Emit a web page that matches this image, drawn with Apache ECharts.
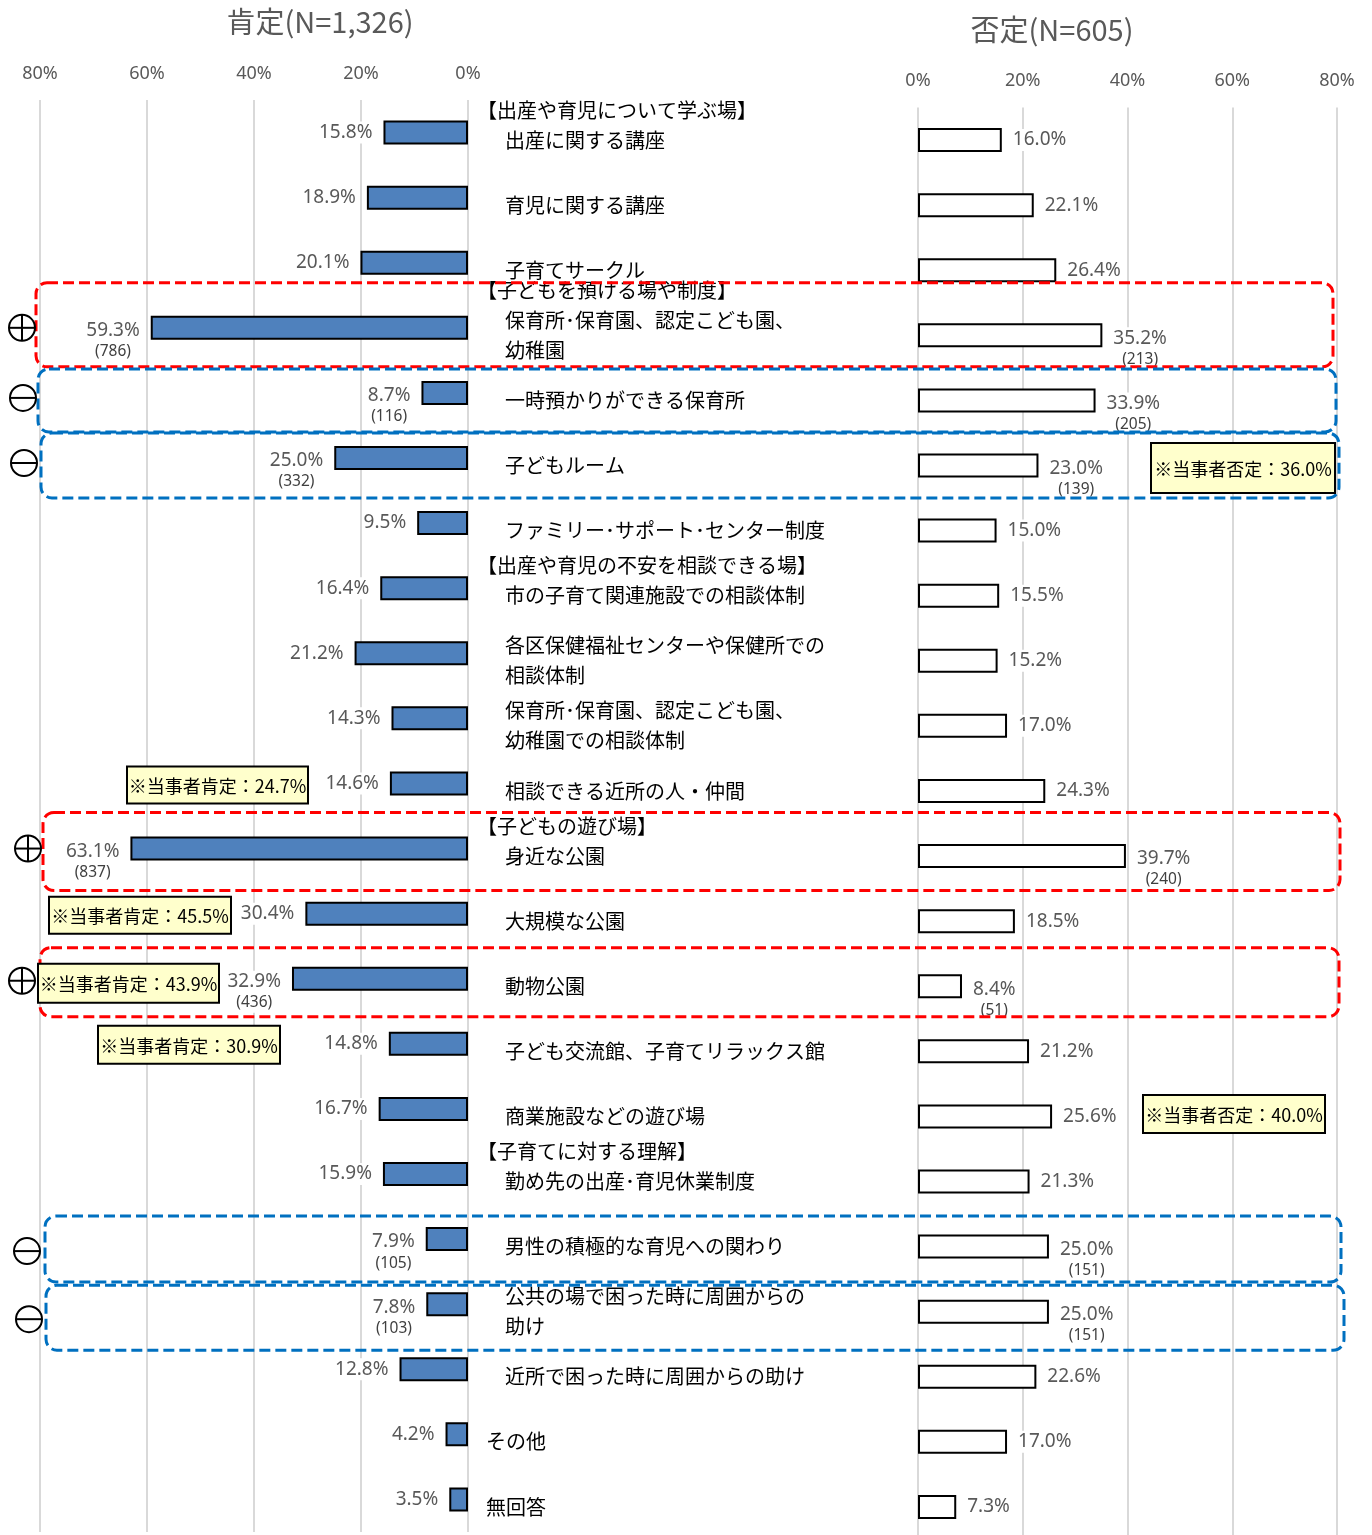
<!DOCTYPE html>
<html>
<head>
<meta charset="utf-8">
<script src="https://cdn.jsdelivr.net/npm/echarts/dist/echarts.min.js"></script>
<style>
html,body{margin:0;padding:0;background:#fff;}
#chart{width:1372px;height:1535px;}
</style>
</head>
<body>
<div id="chart"></div>
<script>
// ---------------- DATA ----------------
const categories = [
  '出産に関する講座',
  '育児に関する講座',
  '子育てサークル',
  '保育所･保育園、認定こども園、\n幼稚園',
  '一時預かりができる保育所',
  '子どもルーム',
  'ファミリー･サポート･センター制度',
  '市の子育て関連施設での相談体制',
  '各区保健福祉センターや保健所での\n相談体制',
  '保育所･保育園、認定こども園、\n幼稚園での相談体制',
  '相談できる近所の人・仲間',
  '身近な公園',
  '大規模な公園',
  '動物公園',
  '子ども交流館、子育てリラックス館',
  '商業施設などの遊び場',
  '勤め先の出産･育児休業制度',
  '男性の積極的な育児への関わり',
  '公共の場で困った時に周囲からの\n助け',
  '近所で困った時に周囲からの助け',
  'その他',
  '無回答'
];
const sectionHeaders = [
  '【出産や育児について学ぶ場】', '', '',
  '【子どもを預ける場や制度】', '', '', '',
  '【出産や育児の不安を相談できる場】', '', '', '',
  '【子どもの遊び場】', '', '', '', '',
  '【子育てに対する理解】', '', '', '', '', ''
];
const ungroupedItems = ['その他', '無回答'];
const positiveValues = [15.8, 18.9, 20.1, 59.3, 8.7, 25.0, 9.5, 16.4, 21.2, 14.3, 14.6, 63.1, 30.4, 32.9, 14.8, 16.7, 15.9, 7.9, 7.8, 12.8, 4.2, 3.5];
const negativeValues = [16.0, 22.1, 26.4, 35.2, 33.9, 23.0, 15.0, 15.5, 15.2, 17.0, 24.3, 39.7, 18.5, 8.4, 21.2, 25.6, 21.3, 25.0, 25.0, 22.6, 17.0, 7.3];
const positiveCounts = [null, null, null, 786, 116, 332, null, null, null, null, null, 837, null, 436, null, null, null, 105, 103, null, null, null];
const negativeCounts = [null, null, null, 213, 205, 139, null, null, null, null, null, 240, null, 51, null, null, null, 151, 151, null, null, null];
const axisTicks = [0, 20, 40, 60, 80];
const titleTexts = ['肯定(N=1,326)', '否定(N=605)'];
const noteRows = [5, 10, 12, 13, 14, 15];
const noteTexts = ['※当事者否定：36.0%', '※当事者肯定：24.7%', '※当事者肯定：45.5%', '※当事者肯定：43.9%', '※当事者肯定：30.9%', '※当事者否定：40.0%'];
const highlightRows = [3, 4, 5, 11, 13, 17, 18];
const highlightSigns = ['+', '-', '-', '+', '+', '-', '-'];

// ---------------- LAYOUT / STYLE ----------------
const RED = '#FF0000', BLUE = '#0070C0';
const boxLayout = [
  {x1: 36, x2: 1333, t: -45, b: 39, c: RED,  sx: 22, sy: 0},
  {x1: 38, x2: 1336, t: -24, b: 39, c: BLUE, sx: 23, sy: 5},
  {x1: 41, x2: 1339, t: -25, b: 40, c: BLUE, sx: 24, sy: 5},
  {x1: 43, x2: 1340, t: -36, b: 42, c: RED,  sx: 28, sy: 0},
  {x1: 40, x2: 1339, t: -31, b: 38, c: RED,  sx: 22, sy: 2},
  {x1: 45, x2: 1341, t: -23, b: 43, c: BLUE, sx: 27, sy: 12},
  {x1: 46, x2: 1344, t: -19, b: 46, c: BLUE, sx: 29, sy: 15}
];
const noteLayout = [
  {x1: 1151, x2: 1335, t: -15, b: 35},
  {x1: 127,  x2: 308,  t: -17, b: 20},
  {x1: 49,   x2: 231,  t: -17, b: 20},
  {x1: 38,   x2: 219,  t: -15, b: 24},
  {x1: 98,   x2: 280,  t: -18, b: 20},
  {x1: 1143, x2: 1325, t: -14, b: 24}
];
const CJK = '"Noto Sans CJK JP", "Noto Sans", sans-serif';
const NUM = '"Noto Sans", "Liberation Sans", sans-serif';
const GRAY = '#595959';

const chart = echarts.init(document.getElementById('chart'), null, {renderer: 'canvas'});

function buildData(values, counts) {
  return values.map((v, i) => counts[i] != null
    ? {value: v, label: {offset: [0, 13]}}
    : {value: v});
}
function labelFormatter(counts) {
  return function (p) {
    const pct = '{p|' + p.value.toFixed(1) + '%}';
    return counts[p.dataIndex] != null ? pct + '\n{c|(' + counts[p.dataIndex] + ')}' : pct;
  };
}
const labelRich = {
  p: {fontSize: 19, color: GRAY, fontFamily: NUM, lineHeight: 22, align: 'center'},
  c: {fontSize: 15.5, color: '#404040', fontFamily: NUM, lineHeight: 20, align: 'center'}
};
function xAxisCfg(gridIndex, inverse, margin) {
  return {
    gridIndex: gridIndex, type: 'value', min: axisTicks[0], max: axisTicks[axisTicks.length - 1],
    interval: axisTicks[1] - axisTicks[0], inverse: inverse, position: 'top',
    axisLine: {show: false}, axisTick: {show: false},
    splitLine: {show: true, lineStyle: {color: '#D9D9D9', width: 2}},
    axisLabel: {formatter: '{value}%', color: GRAY, fontSize: 18, fontFamily: NUM, margin: margin}
  };
}

const option = {
  animation: false,
  backgroundColor: '#ffffff',
  grid: [
    {left: 40, width: 428, top: 100, height: 1432, outerBoundsMode: 'none'},
    {left: 918, width: 419, top: 107.5, height: 1432, outerBoundsMode: 'none'}
  ],
  xAxis: [xAxisCfg(0, true, 17), xAxisCfg(1, false, 18)],
  yAxis: [
    {gridIndex: 0, type: 'category', data: categories, inverse: true,
     axisLine: {show: false}, axisTick: {show: false}, axisLabel: {show: false}, splitLine: {show: false}},
    {gridIndex: 1, type: 'category', data: categories, inverse: true,
     axisLine: {show: false}, axisTick: {show: false}, splitLine: {show: false},
     axisLabel: {
       interval: 0, align: 'left', margin: 441,
       formatter: function (value, index) {
         const style = ungroupedItems.indexOf(value) >= 0 ? 'n' : 'i';
         const item = '{' + style + '|' + value + '}';
         const h = sectionHeaders[index];
         return h ? '{h|' + h + '}\n' + item + '\n{i| }' : item;
       },
       rich: {
         h: {fontSize: 20, lineHeight: 30, color: '#000', fontFamily: CJK},
         i: {fontSize: 20, lineHeight: 30, color: '#000', fontFamily: CJK, padding: [0, 0, 0, 28]},
         n: {fontSize: 20, lineHeight: 30, color: '#000', fontFamily: CJK, padding: [0, 0, 0, 9]}
       }
     }}
  ],
  series: [
    {
      name: '肯定', type: 'bar', xAxisIndex: 0, yAxisIndex: 0, barWidth: 24,
      data: buildData(positiveValues, positiveCounts),
      itemStyle: {color: '#4F81BD', borderColor: '#000', borderWidth: 2},
      label: {show: true, position: 'left', distance: 11, formatter: labelFormatter(positiveCounts),
              rich: labelRich, backgroundColor: '#fff'}
    },
    {
      name: '否定', type: 'bar', xAxisIndex: 1, yAxisIndex: 1, barWidth: 24,
      data: buildData(negativeValues, negativeCounts),
      itemStyle: {color: '#fff', borderColor: '#000', borderWidth: 2},
      label: {show: true, position: 'right', distance: 11, formatter: labelFormatter(negativeCounts),
              rich: labelRich, backgroundColor: '#fff'}
    }
  ]
};
chart.setOption(option);

// ---------------- ANNOTATIONS ----------------
function rowY(i) { return chart.convertToPixel({gridIndex: 0}, [0, i])[1]; }
const graphics = [];
graphics.push({type: 'text', x: 320, y: 22, z: 50,
  style: {text: titleTexts[0], font: '29px ' + CJK, fill: GRAY, textAlign: 'center', textVerticalAlign: 'middle'}});
graphics.push({type: 'text', x: 1052, y: 30, z: 50,
  style: {text: titleTexts[1], font: '29px ' + CJK, fill: GRAY, textAlign: 'center', textVerticalAlign: 'middle'}});

highlightRows.forEach((row, k) => {
  const L = boxLayout[k];
  const cy = rowY(row);
  graphics.push({type: 'rect', z: 40,
    shape: {x: L.x1, y: cy + L.t, width: L.x2 - L.x1, height: L.b - L.t, r: 11},
    style: {fill: 'none', stroke: L.c, lineWidth: 3, lineDash: [11, 5]}});
  const sx = L.sx, sy = cy + L.sy, r = 13;
  graphics.push({type: 'circle', z: 45, shape: {cx: sx, cy: sy, r: r},
    style: {fill: '#fff', stroke: '#000', lineWidth: 2}});
  graphics.push({type: 'line', z: 46, shape: {x1: sx - r, y1: sy, x2: sx + r, y2: sy},
    style: {stroke: '#000', lineWidth: 2}});
  if (highlightSigns[k] === '+') {
    graphics.push({type: 'line', z: 46, shape: {x1: sx, y1: sy - r, x2: sx, y2: sy + r},
      style: {stroke: '#000', lineWidth: 2}});
  }
});

noteRows.forEach((row, k) => {
  const L = noteLayout[k];
  const cy = rowY(row);
  graphics.push({type: 'rect', z: 60,
    shape: {x: L.x1, y: cy + L.t, width: L.x2 - L.x1, height: L.b - L.t},
    style: {fill: '#FFFFCC', stroke: '#000', lineWidth: 2}});
  graphics.push({type: 'text', z: 61, x: (L.x1 + L.x2) / 2, y: cy + (L.t + L.b) / 2 + 1,
    style: {text: noteTexts[k], font: '18px ' + CJK, fill: '#000', textAlign: 'center', textVerticalAlign: 'middle'}});
});

chart.setOption({graphic: graphics});
</script>
</body>
</html>
